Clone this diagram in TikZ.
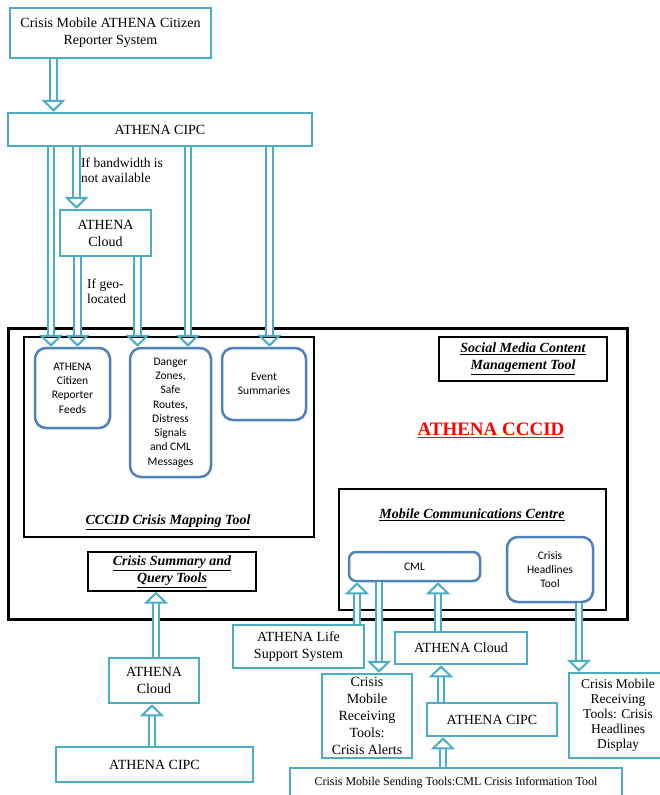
\documentclass[tikz,border=0pt]{standalone}
\usepackage{fontspec}
\setmainfont{Liberation Serif}
\newfontfamily\calibfont{Carlito}
\usetikzlibrary{arrows.meta}
\definecolor{ateal}{HTML}{4BACC6}
\definecolor{ablue}{HTML}{4F81BD}
\tikzset{
  tbox/.style 2 args={draw=ateal,line width=2.5pt,fill=white,align=center,inner sep=1pt,
    minimum width=#1,minimum height=#2,font=\fontsize{14}{17}\selectfont},
  rbox/.style 2 args={draw=ablue,line width=2.5pt,rounded corners=11pt,fill=white,align=center,
    inner sep=1pt,minimum width=#1,minimum height=#2,font=\calibfont\fontsize{11.5}{14.3}\selectfont},
  kbox/.style 2 args={draw=black,line width=1.3pt,minimum width=#1,minimum height=#2},
  ttl/.style={align=center,font=\bfseries\itshape\fontsize{14}{17}\selectfont},
  lbl/.style={align=left,inner sep=0pt,font=\fontsize{13.5}{15}\selectfont},
  dbl/.style={draw=ateal,line width=2pt,double=white,double distance=4.5pt,
    -{Triangle[open,length=12pt,width=24pt]}},
}
\begin{document}
\begin{tikzpicture}[x=1pt,y=-1pt]
    \useasboundingbox (0,0) rectangle (660,795);

    % 上部
    \node [tbox={201}{50}] (crs) at (110.5,33) {Crisis Mobile ATHENA Citizen\\Reporter System};
    \node [tbox={304}{33}] (cipc) at (160,129.5) {ATHENA CIPC};
    \node [tbox={91}{46}] (cloud) at (105.5,233) {ATHENA\\Cloud};
    \node [lbl,anchor=north west] (bw) at (81,158) {If bandwidth is\\not available};
    \node [lbl,anchor=north west] (geo) at (87,279) {If geo-\\located};

    % 外框
    \node [kbox={619}{291},line width=3pt] (cccid) at (317.5,473.5) {};
    \node [font=\bfseries\fontsize{19}{22}\selectfont,text=red] (cccidt) at (491,430) {\underline{ATHENA CCCID}};
    \node [kbox={168}{44},ttl] (social) at (523,359) {\underline{Social Media Content}\\\underline{Management Tool}};

    % 地图工具
    \node [kbox={290}{200}] (map) at (169,437) {};
    \node [ttl] (mapt) at (168,522) {\underline{CCCID Crisis Mapping Tool}};
    \node [rbox={75}{80}] (feeds) at (72.5,388) {ATHENA\\Citizen\\Reporter\\Feeds};
    \node [rbox={81}{129}] (danger) at (170.5,412.5) {Danger\\Zones,\\Safe\\Routes,\\Distress\\Signals\\and CML\\Messages};
    \node [rbox={84}{72}] (events) at (264,384) {Event\\Summaries};
    \node [kbox={168}{39},ttl] (summ) at (172,571.5) {\underline{Crisis Summary and}\\\underline{Query Tools}};

    % 移动通信中心
    \node [kbox={267}{121}] (mcc) at (472.5,549.5) {};
    \node [ttl] (mcct) at (472,515) {\underline{Mobile Communications Centre}};
    \node [rbox={131}{29},rounded corners=7pt] (cml) at (414.5,566.5) {CML};
    \node [rbox={86}{65}] (htool) at (550,569.5) {Crisis\\Headlines\\Tool};

    % 下部
    \node [tbox={90}{45}] (cloudb) at (154,680.5) {ATHENA\\Cloud};
    \node [tbox={197}{35}] (cipcb) at (154.5,764.5) {ATHENA CIPC};
    \node [tbox={131}{43}] (life) at (298.5,646.5) {ATHENA Life\\Support System};
    \node [tbox={90}{84}] (alerts) at (367,716) {Crisis\\Mobile\\Receiving\\Tools:\\Crisis Alerts};
    \node [tbox={132}{32}] (cloudr) at (461,648) {ATHENA Cloud};
    \node [tbox={130}{33}] (cipcr) at (492,719.5) {ATHENA CIPC};
    \node [tbox={332}{30},font=\fontsize{12}{14}\selectfont] (send) at (456,783) {Crisis Mobile Sending Tools:CML Crisis Information Tool};
    \node [tbox={98}{85},font=\fontsize{13.5}{15}\selectfont] (disp) at (618,715.5) {Crisis Mobile\\Receiving\\Tools: Crisis\\Headlines\\Display};

    % 向下的箭头
    \draw [dbl] (53.5,0 |- crs.south) -- (53.5,0 |- cipc.north);
    \draw [dbl] (51,0 |- cipc.south) -- (51,0 |- feeds.north);
    \draw [dbl] (76.5,0 |- cipc.south) -- (76.5,0 |- cloud.north);
    \draw [dbl] (188,0 |- cipc.south) -- (188,0 |- danger.north);
    \draw [dbl] (269.5,0 |- cipc.south) -- (269.5,0 |- events.north);
    \draw [dbl] (77.5,0 |- cloud.south) -- (77.5,0 |- feeds.north);
    \draw [dbl] (137.5,0 |- cloud.south) -- (137.5,0 |- danger.north);
    \draw [dbl] (379,0 |- cml.south) -- (379,0 |- alerts.north);
    \draw [dbl] (579,0 |- htool.south) -- (579,0 |- disp.north);

    % 向上的箭头
    \draw [dbl] (156,0 |- cloudb.north) -- (156,0 |- summ.south);
    \draw [dbl] (152,0 |- cipcb.north) -- (152,0 |- cloudb.south);
    \draw [dbl] (357,0 |- life.north) -- (357,0 |- cml.south);
    \draw [dbl] (438,0 |- cloudr.north) -- (438,0 |- cml.south);
    \draw [dbl] (441,0 |- cipcr.north) -- (441,0 |- cloudr.south);
    \draw [dbl] (443,0 |- send.north) -- (443,0 |- cipcr.south);
\end{tikzpicture}
\end{document}
